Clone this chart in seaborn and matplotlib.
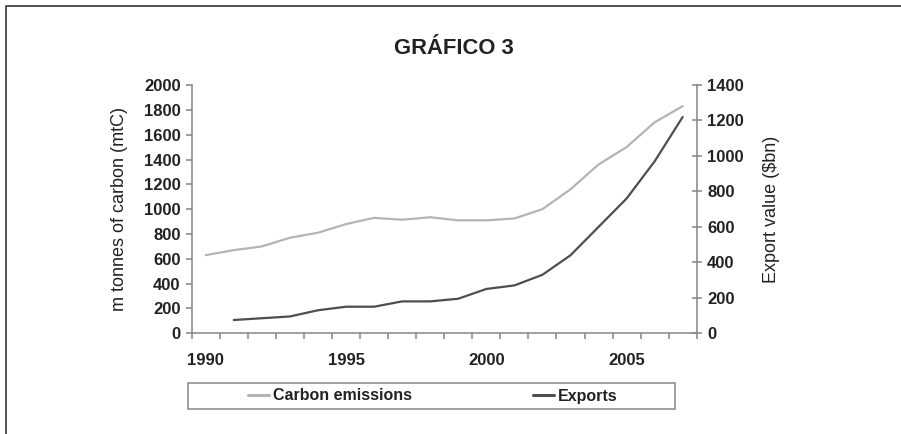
"""
Gráfico 3: emissões de carbono e exportações (eixo duplo).
"""
import matplotlib
matplotlib.use("Agg")
import matplotlib.pyplot as plt
from matplotlib.lines import Line2D
from matplotlib.patches import Rectangle
import seaborn as sns

# dados
anos_carbono = list(range(1990, 2008))
carbono = [630, 670, 700, 770, 810, 880, 930, 915, 935, 910,
           910, 925, 1000, 1160, 1360, 1500, 1700, 1830]
anos_export = list(range(1991, 2008))
exportacoes = [75, 85, 95, 130, 150, 150, 180, 180, 195, 250,
               270, 330, 440, 600, 760, 970, 1220]

titulo = "GRÁFICO 3"
rotulo_esq = "m tonnes of carbon (mtC)"
rotulo_dir = "Export value ($bn)"
legenda = ["Carbon emissions", "Exports"]
anos_rotulo = [1990, 1995, 2000, 2005]

cor_carbono = "#b4b4b4"
cor_export = "#4e4e4e"
cor_eixo = "#858585"
cor_texto = "#222222"

sns.set_style("ticks")
plt.rcParams["font.family"] = ["Liberation Sans", "DejaVu Sans"]

fig = plt.figure(figsize=(9.01, 4.34), dpi=100)
ax = fig.add_axes([0.2128, 0.232, 0.5605, 0.5721])
ax2 = ax.twinx()

sns.lineplot(x=anos_carbono, y=carbono, ax=ax, color=cor_carbono,
             linewidth=1.6, legend=False)
sns.lineplot(x=anos_export, y=exportacoes, ax=ax2, color=cor_export,
             linewidth=1.6, legend=False)

ax.set_xlim(1989.5, 2007.5)
ax.set_ylim(0, 2000)
ax2.set_ylim(0, 1400)
ax.set_yticks(range(0, 2001, 200))
ax2.set_yticks(range(0, 1401, 200))
ax.set_xticks(anos_rotulo)
ax.set_xticks([a - 0.5 for a in anos_carbono] + [2007.5], minor=True)

for a in (ax, ax2):
    for lado in ("left", "right", "bottom", "top"):
        a.spines[lado].set_color(cor_eixo)
        a.spines[lado].set_linewidth(1.1)
    a.spines["top"].set_visible(False)
ax.spines["right"].set_visible(False)
ax2.spines["left"].set_visible(False)
ax2.spines["bottom"].set_visible(False)

tam = 12
ax.tick_params(axis="y", direction="out", length=4, width=1.1,
               color=cor_eixo, pad=4, labelsize=tam, labelcolor=cor_texto)
ax2.tick_params(axis="y", direction="inout", length=7, width=1.1,
                color=cor_eixo, pad=4, labelsize=tam, labelcolor=cor_texto)
ax.tick_params(axis="x", which="major", length=0, pad=14,
               labelsize=tam, labelcolor=cor_texto)
ax.tick_params(axis="x", which="minor", direction="out", length=4,
               width=1.1, color=cor_eixo)
for lbl in ax.get_xticklabels() + ax.get_yticklabels() + ax2.get_yticklabels():
    lbl.set_fontweight("bold")

ax.set_xlabel("")
ax.set_ylabel(rotulo_esq, fontsize=13, color=cor_texto)
ax2.set_ylabel(rotulo_dir, fontsize=13, color=cor_texto, rotation=90)
ax.yaxis.set_label_coords(-0.126, 0.5)
ax2.yaxis.set_label_coords(1.131, 0.5)

fig.text(453.5 / 901, 1 - 49 / 434, titulo, ha="center", va="center",
         fontsize=15.8, fontweight="bold", color=cor_texto)

# legenda com caixa própria
fig.patches.append(Rectangle((188 / 901, 1 - 409 / 434), 487 / 901, 26 / 434,
                             transform=fig.transFigure, fill=False,
                             edgecolor=cor_eixo, linewidth=1.1))
alcas = [Line2D([], [], color=cor_carbono, linewidth=2.2),
         Line2D([], [], color=cor_export, linewidth=2.2)]
fig.legend(alcas, legenda, loc="center", ncol=2,
           bbox_to_anchor=(433 / 901, 1 - 396 / 434), frameon=False,
           handlelength=1.3, handletextpad=0.25, columnspacing=7.6,
           prop=dict(size=11.5, weight="bold"), labelcolor=cor_texto)

# moldura (só topo e esquerda)
fig.add_artist(Line2D([5.5 / 901, 5.5 / 901, 1], [0, 1 - 5.5 / 434, 1 - 5.5 / 434],
                      transform=fig.transFigure, color="#333333", linewidth=1.2))

fig.savefig("out.png", dpi=100)
plt.close(fig)
